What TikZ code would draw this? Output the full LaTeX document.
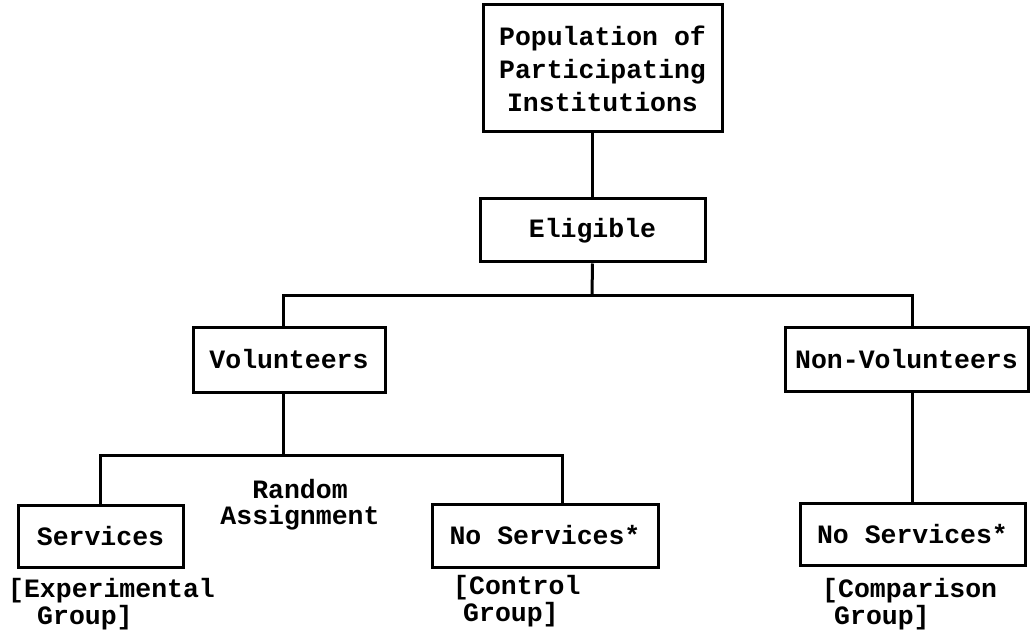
\documentclass[tikz,border=0pt]{standalone}
\usepackage{fontspec}
\setmonofont{Liberation Mono}
\begin{document}
\begin{tikzpicture}[x=1pt,y=-1pt,
  txt/.style={font=\ttfamily\bfseries\fontsize{26.5}{33}\selectfont},
  box/.style={txt, draw, line width=3pt, inner sep=0pt, align=center},
  lbl/.style={txt, inner sep=0pt, anchor=west},
  conn/.style={line width=3pt}]
\useasboundingbox (0,0) rectangle (1031,631);
\node[box, minimum width=239pt, minimum height=127pt] (pop) at (602.5,68.5)
  {Population of\\Participating\\Institutions};
\node[box, minimum width=225pt, minimum height=63pt] (elig) at (592.5,230.5) {Eligible};
\node[box, minimum width=192pt, minimum height=65pt] (vol) at (289,359.5) {Volunteers};
\node[box, minimum width=243pt, minimum height=64pt] (nonvol) at (906.5,359) {Non-Volunteers};
\node[box, minimum width=165pt, minimum height=62pt] (serv) at (100.5,536) {Services};
\node[box, minimum width=226pt, minimum height=63pt] (ctrl) at (545,535.5) {No Services*};
\node[box, minimum width=225pt, minimum height=62pt] (comp) at (912.5,534) {No Services*};
\node[txt, inner sep=0pt, align=center, font=\ttfamily\bfseries\fontsize{26.5}{26}\selectfont] (rand) at (300,505) {Random\\Assignment};
\node[lbl] (e1) at (8,591) {[Experimental};
\node[lbl] (e2) at (37,618) {Group]};
\node[lbl] (c1) at (453,588) {[Control};
\node[lbl] (c2) at (463,615) {Group]};
\node[lbl] (m1) at (822,591) {[Comparison};
\node[lbl] (m2) at (834,618) {Group]};
\coordinate (j1) at (592,295);
\coordinate (j2) at (283,455);
\draw[conn] (elig.north) -- (elig.north |- pop.south);
\draw[conn] (elig.south) -- (j1);
\draw[conn] ([xshift=-6pt]vol.north) |- (j1) -| ([xshift=5.5pt]nonvol.north);
\draw[conn] ([xshift=-6pt]vol.south) -- (j2);
\draw[conn] (serv.north) |- (j2) -| ([xshift=17pt]ctrl.north);
\draw[conn] (comp.north) -- (comp.north |- nonvol.south);
\end{tikzpicture}
\end{document}
